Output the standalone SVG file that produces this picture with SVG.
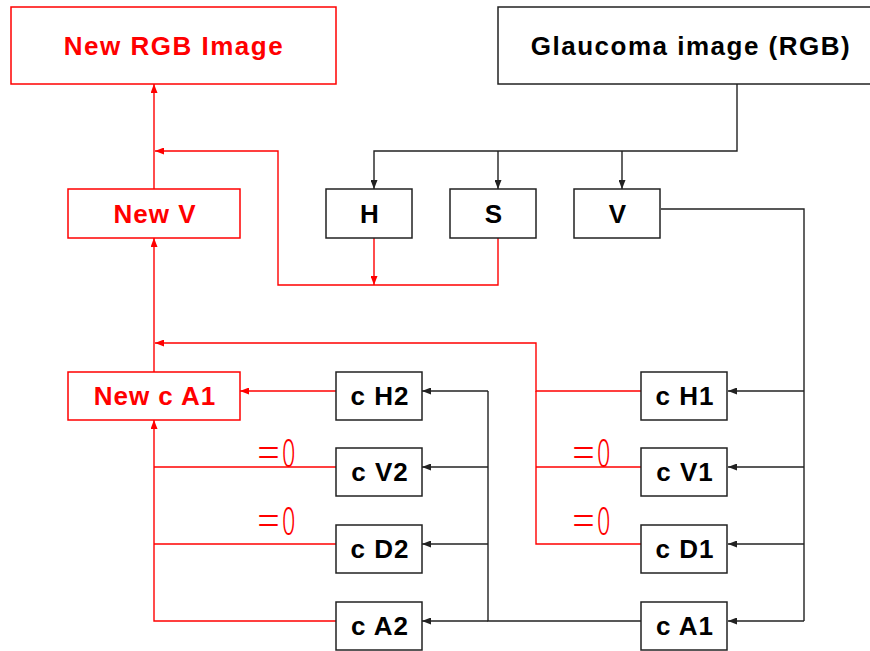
<svg xmlns="http://www.w3.org/2000/svg" width="870" height="651" viewBox="0 0 870 651">
<style>
.bk{fill:#fff;stroke:#222;stroke-width:1.5}
.rd{fill:#fff;stroke:#f00;stroke-width:1.5}
.t{font-family:"Liberation Sans",Arial,sans-serif;font-weight:bold;font-size:26px;text-anchor:middle;letter-spacing:1px}
.tb{fill:#000}
.tr{fill:#f00}
.cb{fill:none;stroke:#222;stroke-width:1.4}
.cr{fill:none;stroke:#f00;stroke-width:1.4}
.z{font-family:"Noto Sans CJK JP","DejaVu Sans",sans-serif;font-weight:200;font-size:25px;fill:#f00;letter-spacing:1px}
</style>
<defs>
<marker id="ab" markerWidth="9" markerHeight="7" refX="9" refY="3.5" orient="auto" markerUnits="userSpaceOnUse"><path d="M0,0 L9,3.5 L0,7 z" fill="#222"/></marker>
<marker id="ar" markerWidth="9" markerHeight="7" refX="9" refY="3.5" orient="auto" markerUnits="userSpaceOnUse"><path d="M0,0 L9,3.5 L0,7 z" fill="#f00"/></marker>
</defs>
<rect width="870" height="651" fill="#fff"/>
<g id="connectors">
<path class="cb" d="M737,84 V151 H374 V189" marker-end="url(#ab)"/>
<path class="cb" d="M498,151 V189" marker-end="url(#ab)"/>
<path class="cb" d="M622,151 V189" marker-end="url(#ab)"/>
<path class="cb" d="M661,209 H804 V621"/>
<path class="cb" d="M804,391 H728" marker-end="url(#ab)"/>
<path class="cb" d="M804,467 H728" marker-end="url(#ab)"/>
<path class="cb" d="M804,544 H728" marker-end="url(#ab)"/>
<path class="cb" d="M804,621 H728" marker-end="url(#ab)"/>
<path class="cb" d="M641,621 H488 V391"/>
<path class="cb" d="M488,391 H422" marker-end="url(#ab)"/>
<path class="cb" d="M488,467 H422" marker-end="url(#ab)"/>
<path class="cb" d="M488,544 H422" marker-end="url(#ab)"/>
<path class="cb" d="M488,621 H422" marker-end="url(#ab)"/>
<path class="cr" d="M374,238 V285" marker-end="url(#ar)"/>
<path class="cr" d="M498,238 V285 H278 V151 H155" marker-end="url(#ar)"/>
<path class="cr" d="M154,189 V84" marker-end="url(#ar)"/>
<path class="cr" d="M154,372 V238" marker-end="url(#ar)"/>
<path class="cr" d="M641,391 H536 V343 H155" marker-end="url(#ar)"/>
<path class="cr" d="M641,467 H536"/>
<path class="cr" d="M641,544 H536 V391"/>
<path class="cr" d="M336,391 H240" marker-end="url(#ar)"/>
<path class="cr" d="M336,467 H154"/>
<path class="cr" d="M336,544 H154"/>
<path class="cr" d="M336,621 H154 V420" marker-end="url(#ar)"/>
</g>
<g id="zero-labels">
<text class="z" transform="translate(256,467) scale(1,1.55)">＝0</text>
<text class="z" transform="translate(256,535) scale(1,1.55)">＝0</text>
<text class="z" transform="translate(571,467) scale(1,1.55)">＝0</text>
<text class="z" transform="translate(571,535) scale(1,1.55)">＝0</text>
</g>
<g id="new-rgb"><rect class="rd" x="11" y="7" width="325" height="77"/><text class="t tr" x="174" y="55" style="letter-spacing:1.5px">New RGB Image</text></g>
<g id="glaucoma"><rect class="bk" x="498" y="7" width="390" height="77"/><text class="t tb" x="691" y="55" style="letter-spacing:1.5px">Glaucoma image (RGB)</text></g>
<g id="H"><rect class="bk" x="326" y="189" width="86" height="49"/><text class="t tb" x="370" y="223">H</text></g>
<g id="S"><rect class="bk" x="450" y="189" width="86" height="49"/><text class="t tb" x="494" y="223">S</text></g>
<g id="V"><rect class="bk" x="574" y="189" width="86" height="49"/><text class="t tb" x="618" y="223">V</text></g>
<g id="new-v"><rect class="rd" x="68" y="189" width="172" height="49"/><text class="t tr" x="155" y="223">New V</text></g>
<g id="new-ca1"><rect class="rd" x="68" y="372" width="172" height="48"/><text class="t tr" x="155" y="405">New c A1</text></g>
<g id="cH2"><rect class="bk" x="336" y="372" width="86" height="48"/><text class="t tb" x="380" y="405">c H2</text></g>
<g id="cV2"><rect class="bk" x="336" y="448" width="86" height="48"/><text class="t tb" x="380" y="481">c V2</text></g>
<g id="cD2"><rect class="bk" x="336" y="525" width="86" height="48"/><text class="t tb" x="380" y="558">c D2</text></g>
<g id="cA2"><rect class="bk" x="336" y="602" width="86" height="48"/><text class="t tb" x="380" y="635">c A2</text></g>
<g id="cH1"><rect class="bk" x="641" y="372" width="86" height="48"/><text class="t tb" x="685" y="405">c H1</text></g>
<g id="cV1"><rect class="bk" x="641" y="448" width="86" height="48"/><text class="t tb" x="685" y="481">c V1</text></g>
<g id="cD1"><rect class="bk" x="641" y="525" width="86" height="48"/><text class="t tb" x="685" y="558">c D1</text></g>
<g id="cA1"><rect class="bk" x="641" y="602" width="86" height="48"/><text class="t tb" x="685" y="635">c A1</text></g>
</svg>
